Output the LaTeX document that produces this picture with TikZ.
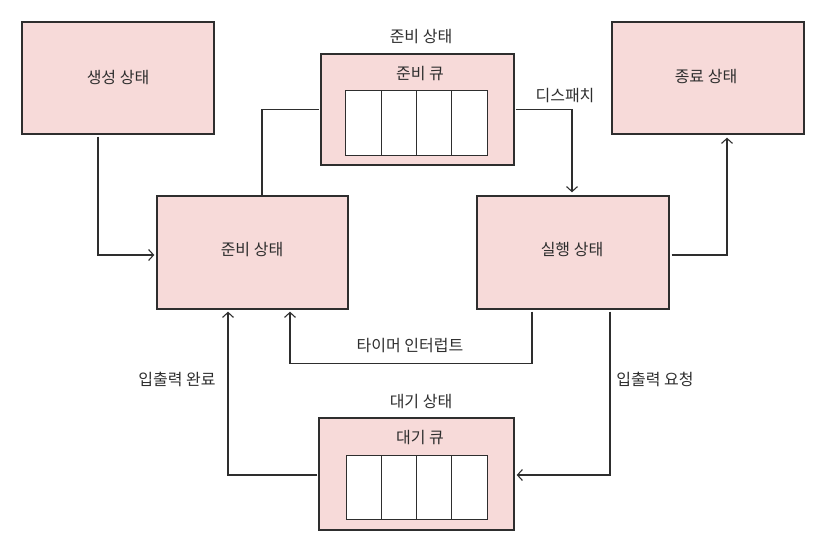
\documentclass[tikz,border=0pt]{standalone}
\usepackage{fontspec}
\setmainfont{Noto Sans CJK KR}
\usetikzlibrary{arrows.meta}
\definecolor{boxpink}{HTML}{F7DAD9}
\definecolor{ink}{HTML}{2E2E2E}
\begin{document}
\begin{tikzpicture}[x=1pt,y=-1pt,
  box/.style={draw=ink,line width=1.4pt,fill=boxpink,rectangle,inner sep=0pt},
  cell/.style={draw=ink,line width=1pt,fill=white,rectangle,inner sep=0pt,minimum width=35.25pt},
  lbl/.style={text=ink,font=\fontsize{16pt}{19pt}\selectfont,inner sep=1pt},
  conn/.style={draw=ink,line width=1.1pt},
  arr/.style={conn,-{Straight Barb[length=5pt,width=11pt,line width=1.1pt]}}]
\useasboundingbox (0,0) rectangle (816,546);
% main boxes
\node[box,minimum width=192pt,minimum height=112pt] (gen) at (118,78) {};
\node[lbl] (gent) at (118,78) {생성 상태};
\node[box,minimum width=192pt,minimum height=112pt] (term) at (708,78) {};
\node[lbl] (termt) at (706,77) {종료 상태};
\node[box,minimum width=191pt,minimum height=113pt] (ready) at (252.5,252.5) {};
\node[lbl] (readyt) at (252,250) {준비 상태};
\node[box,minimum width=192pt,minimum height=113pt] (run) at (573,252.5) {};
\node[lbl] (runt) at (572,250) {실행 상태};
% ready queue container
\node[box,minimum width=193pt,minimum height=111pt] (readyq) at (417.5,109.5) {};
\node[lbl] (readyqlab) at (421,37) {준비 상태};
\node[lbl] (readyqt) at (420,74) {준비 큐};
\node[cell,minimum height=65pt] (rq1) at (363.6,122.5) {};
\node[cell,minimum height=65pt] (rq2) at (398.9,122.5) {};
\node[cell,minimum height=65pt] (rq3) at (434.1,122.5) {};
\node[cell,minimum height=65pt] (rq4) at (469.4,122.5) {};
% waiting queue container
\node[box,minimum width=195pt,minimum height=112pt] (waitq) at (416.5,474) {};
\node[lbl] (waitqlab) at (421,402) {대기 상태};
\node[lbl] (waitqt) at (420,438) {대기 큐};
\node[cell,minimum height=64pt] (wq1) at (364.5,487) {};
\node[cell,minimum height=64pt] (wq2) at (399.5,487) {};
\node[cell,minimum height=64pt] (wq3) at (434.5,487) {};
\node[cell,minimum height=64pt] (wq4) at (469.5,487) {};
% connectors
\draw[arr] ([xshift=-20pt,yshift=-2pt]gen.south) |- ([xshift=-2pt,yshift=-2.5pt]ready.west);
\draw[conn] ([xshift=9.5pt]ready.north) |- ([xshift=-1pt]readyq.west);
\draw[arr] ([xshift=1pt]readyq.east) -| ([xshift=-1pt,yshift=3pt]run.north);
\draw[arr] ([xshift=2pt,yshift=-2.5pt]run.east) -| ([xshift=19pt,yshift=-3pt]term.south);
\draw[arr] ([xshift=-41pt,yshift=-2pt]run.south) -- ++(0,52) -| ([xshift=37.5pt,yshift=-2pt]ready.south);
\draw[arr] ([xshift=37pt,yshift=-2pt]run.south) |- ([xshift=2pt,yshift=-1pt]waitq.east);
\draw[arr] ([xshift=-1pt,yshift=-1pt]waitq.west) -| ([xshift=-24.5pt,yshift=-2pt]ready.south);
% connector labels
\node[lbl] (dispatch) at (565,96) {디스패치};
\node[lbl] (timer) at (410,346) {타이머 인터럽트};
\node[lbl] (iodone) at (177,379) {입출력 완료};
\node[lbl] (ioreq) at (655,379) {입출력 요청};
\end{tikzpicture}
\end{document}
